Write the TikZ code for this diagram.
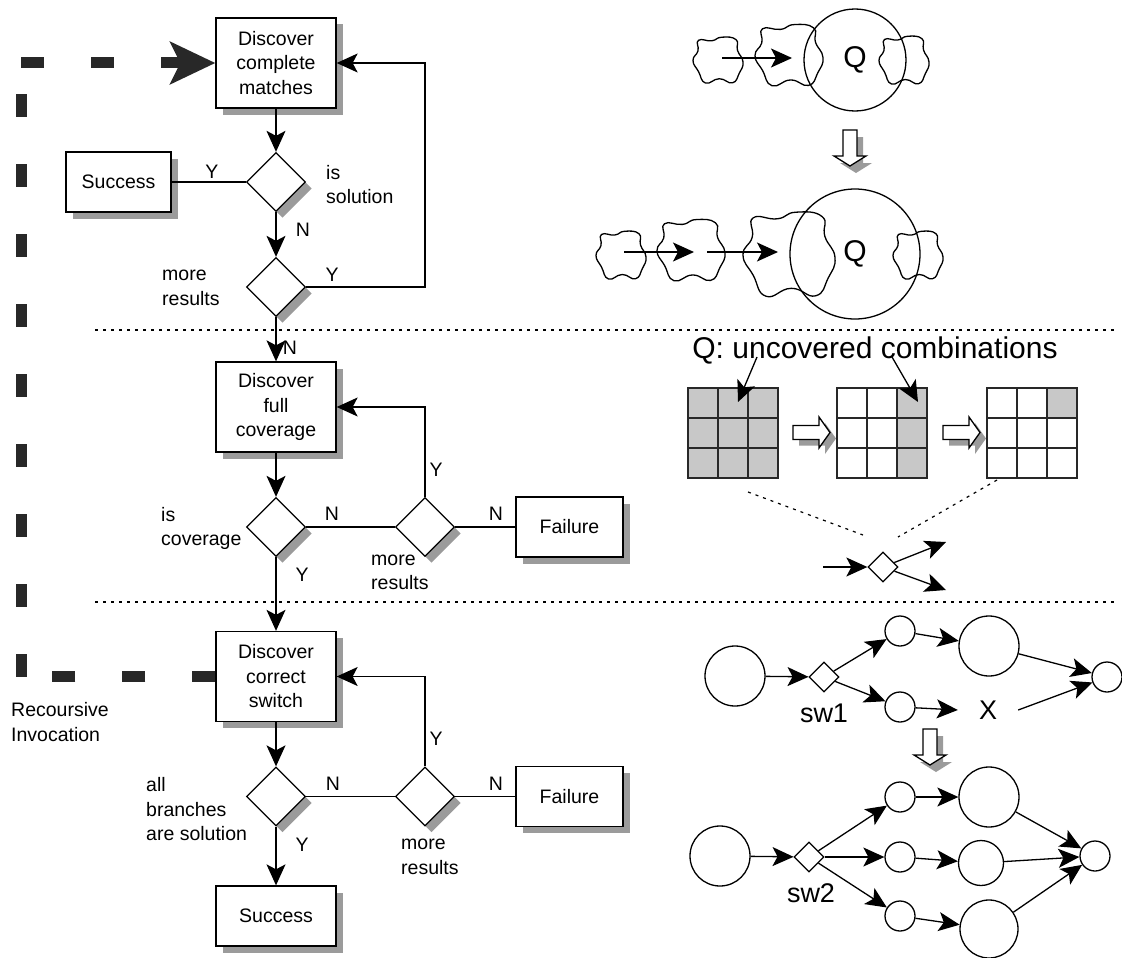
\documentclass[tikz,border=0pt]{standalone}
\usepackage{fontspec}
\setmainfont{Liberation Sans}
\usetikzlibrary{arrows.meta,shapes.geometric,shadows}
\definecolor{shadowgray}{RGB}{155,155,155}
\definecolor{cellgray}{RGB}{200,200,200}
\definecolor{inkgray}{RGB}{40,40,40}
\begin{document}
\begin{tikzpicture}[x=1pt,y=-1pt,
  >={Stealth[length=21pt,width=19pt,inset=5pt]},
  conn/.style={line width=1.3pt},
  lbl/.style={font=\fontsize{19.5}{24.5}\selectfont, inner sep=0pt},
  lbll/.style={lbl, anchor=west, align=left},
  shad/.style={drop shadow={shadow xshift=6.5pt, shadow yshift=-6.5pt, fill=shadowgray, opacity=1}},
  box/.style={draw, line width=1.3pt, fill=white, shad, align=center, inner sep=0pt, font=\fontsize{19.5}{24.5}\selectfont},
  dec/.style={draw, shape=diamond, line width=1.3pt, fill=white, shad, minimum width=59pt, minimum height=59pt, inner sep=0pt, aspect=1},
  dotline/.style={line width=1.2pt, dash pattern=on 3pt off 5pt},
  recur/.style={line width=11pt, color=inkgray, dash pattern=on 23pt off 47pt},
  qfont/.style={font=\fontsize{30}{36}\selectfont},
  gcirc/.style={draw, circle, line width=1.3pt, fill=white, inner sep=0pt},
  gsw/.style={draw, shape=diamond, line width=1.3pt, fill=white, minimum width=30pt, minimum height=30pt, inner sep=0pt, aspect=1},
  glabel/.style={font=\fontsize{27}{32}\selectfont, inner sep=0pt},
  gridl/.style={line width=1.5pt, color=inkgray},
  blob/.pic={\draw[line width=1.3pt] plot[smooth cycle, tension=0.85] coordinates {(-1.00,0.02) (-0.80,-0.38) (-0.78,-0.82) (-0.25,-0.80) (0.15,-0.95) (0.72,-0.85) (0.78,-0.40) (1.00,0.08) (0.85,0.55) (0.58,0.95) (0.05,0.78) (-0.50,0.96) (-0.78,0.48)};},
  darrow/.pic={
    \fill[shadowgray] (-1,7) -- (13,7) -- (13,33) -- (22,33) -- (6,43) -- (-10,33) -- (-1,33) -- cycle;
    \draw[line width=1.3pt, fill=white] (-7,0) -- (7,0) -- (7,26) -- (16,26) -- (0,36) -- (-16,26) -- (-7,26) -- cycle;},
  rarrow/.pic={
    \fill[shadowgray] (6,-1) -- (32,-1) -- (32,-9.5) -- (43,6) -- (32,21.5) -- (32,13) -- (6,13) -- cycle;
    \draw[line width=1.3pt, fill=white] (0,-7) -- (26,-7) -- (26,-15.5) -- (37,0) -- (26,15.5) -- (26,7) -- (0,7) -- cycle;},
  gridlines/.pic={
    \draw[gridl] (0,0) rectangle (90,90);
    \draw[gridl] (30,0) -- (30,90) (60,0) -- (60,90) (0,30) -- (90,30) (0,60) -- (90,60);}
]
\fill[white] (0,0) rectangle (1122,958);
\useasboundingbox (0,0) rectangle (1122,958);

% separators
\coordinate (sepa1) at (95,330);
\coordinate (sepa2) at (1115,330);
\coordinate (sepb1) at (95,602);
\coordinate (sepb2) at (1115,602);
\draw[dotline] (sepa1) -- (sepa2);
\draw[dotline] (sepb1) -- (sepb2);

% flowchart nodes
\node[box, minimum width=120pt, minimum height=90pt] (b1) at (276,63) {Discover\\complete\\matches};
\node[box, minimum width=105pt, minimum height=60pt] (s1) at (118.5,182) {Success};
\node[dec] (d1) at (276,182) {};
\node[dec] (d2) at (276,287) {};
\node[box, minimum width=120pt, minimum height=90pt] (b2) at (276,407) {Discover\\full\\coverage};
\node[dec] (d3) at (276,527) {};
\node[dec] (d4) at (425,527) {};
\node[box, minimum width=107pt, minimum height=60pt] (f1) at (569.5,527) {Failure};
\node[box, minimum width=120pt, minimum height=90pt] (b3) at (276,676.5) {Discover\\correct\\switch};
\node[dec] (d5) at (276,796.5) {};
\node[dec] (d6) at (425,796.5) {};
\node[box, minimum width=107pt, minimum height=60pt] (f2) at (569.5,796.5) {Failure};
\node[box, minimum width=120pt, minimum height=60pt] (s2) at (276,916) {Success};

% flowchart connectors
\draw[conn,->] (b1) -- (d1);
\draw[conn] (s1) -- (d1);
\draw[conn,->] (d1) -- (d2);
\coordinate (c1) at (425,287);
\draw[conn,->] (d2.east) -- (c1) |- (b1.east);
\draw[conn,->] (d2) -- (b2);
\draw[conn,->] (b2) -- (d3);
\draw[conn] (d3) -- (d4);
\draw[conn] (d4) -- (f1);
\draw[conn,->] (d4.north) |- (b2.east);
\draw[conn,->] (d3) -- (b3);
\draw[conn,->] (b3) -- (d5);
\draw[conn] (d5) -- (d6);
\draw[conn] (d6) -- (f2);
\draw[conn,->] (d6.north) |- (b3.east);
\draw[conn,->] (d5) -- (s2);

% recursive invocation
\coordinate (rb) at (21,676.5);
\coordinate (rt) at (21,63);
\draw[recur] (b3.west) -- (rb);
\draw[recur] (rb) -- (rt);
\draw[recur, -{Stealth[length=45pt,width=42pt,inset=10pt]}] (rt) -- (b1.west);

% labels
\node[lbl] (ly1) at (212,172) {Y};
\node[lbll] (lsol) at (326,184.5) {is\\solution};
\node[lbl] (ln1) at (303,230) {N};
\node[lbll] (lmr1) at (162,288) {more\\results};
\node[lbl] (ly2) at (332,275) {Y};
\node[lbl] (ln2) at (290,348) {N};
\node[lbll] (lcov) at (161,528.5) {is\\coverage};
\node[lbl] (ln3) at (332,514) {N};
\node[lbl] (ln4) at (496,514) {N};
\node[lbl] (ly3) at (436,470) {Y};
\node[lbll] (lmr2) at (371,572.5) {more\\results};
\node[lbl] (ly4) at (302,575) {Y};
\node[lbll] (lall) at (146,809.5) {all\\branches\\are solution};
\node[lbl] (ln5) at (333,784) {N};
\node[lbl] (ln6) at (496,784) {N};
\node[lbl] (ly5) at (436,739) {Y};
\node[lbl] (ly6) at (302,845) {Y};
\node[lbll] (lmr3) at (401,857) {more\\results};
\node[lbll] (lrec) at (11,722) {Recoursive\\Invocation};

% ---- top right: blobs and Q
\node[draw, circle, line width=1.3pt, minimum size=102pt, inner sep=0pt, qfont] (Q1) at (855,60) {Q};
\pic[xscale=25, yscale=24] at (718,60) {blob};
\pic[xscale=34, yscale=32] at (789,55) {blob};
\pic[xscale=25, yscale=25] at (904,60) {blob};
\coordinate (a1s) at (722,58);
\coordinate (a1e) at (792,58);
\draw[conn,->] (a1s) -- (a1e);

\pic at (850,130) {darrow};

\node[draw, circle, line width=1.3pt, minimum size=130pt, inner sep=0pt, qfont] (Q2) at (855,254) {Q};
\pic[xscale=25, yscale=25] at (621,255) {blob};
\pic[xscale=34, yscale=32] at (691,250) {blob};
\pic[xscale=46, yscale=44] at (789,254) {blob};
\pic[xscale=25, yscale=25] at (918,255) {blob};
\coordinate (a2s) at (624,252);
\coordinate (a2e) at (694,252);
\coordinate (a3s) at (707,252);
\coordinate (a3e) at (778,252);
\draw[conn,->] (a2s) -- (a2e);
\draw[conn,->] (a3s) -- (a3e);

% ---- middle right: grids
\node[qfont, inner sep=0pt] (qt) at (875,350) {Q: uncovered combinations};
\fill[cellgray] (688,388) rectangle (778,478);
\pic at (688,388) {gridlines};
\fill[cellgray] (897,388) rectangle (927,478);
\pic at (837,388) {gridlines};
\fill[cellgray] (1047,388) rectangle (1077,418);
\pic at (987,388) {gridlines};
\pic at (793,432.5) {rarrow};
\pic at (943,432.5) {rarrow};
\coordinate (qa1) at (757,357);
\coordinate (qb1) at (738,402);
\coordinate (qa2) at (892,357);
\coordinate (qb2) at (918,402);
\draw[conn,->] (qa1) -- (qb1);
\draw[conn,->] (qa2) -- (qb2);

\coordinate (dl1) at (748,492);
\coordinate (dl2) at (863,535);
\coordinate (dr1) at (997,480);
\coordinate (dr2) at (898,537);
\draw[dotline] (dl1) -- (dl2);
\draw[dotline] (dr1) -- (dr2);
\node[gsw] (sw0) at (883,567) {};
\coordinate (sw0in) at (823,567);
\coordinate (sw0a) at (946,542);
\coordinate (sw0b) at (946,590);
\draw[conn,->] (sw0in) -- (sw0);
\draw[conn,->] (sw0) -- (sw0a);
\draw[conn,->] (sw0) -- (sw0b);

% ---- bottom right: switch graphs
\node[gcirc, minimum size=60pt] (L1) at (735,676) {};
\node[gsw] (sw1) at (824,677) {};
\node[glabel] (sw1l) at (824,713) {sw1};
\node[gcirc, minimum size=30pt] (S1) at (900,631) {};
\node[gcirc, minimum size=30pt] (S2) at (900,707) {};
\node[gcirc, minimum size=60pt] (B1) at (989,646) {};
\node[gcirc, minimum size=30pt] (F1) at (1107,677) {};
\node[glabel, minimum width=60pt] (X) at (988,710) {X};
\draw[conn,->] (L1) -- (sw1);
\draw[conn,->] (sw1) -- (S1);
\draw[conn,->] (sw1) -- (S2);
\draw[conn,->] (S1) -- (B1);
\draw[conn,->] (B1) -- (F1);
\draw[conn,->] (S2) -- (X.west);
\draw[conn,->] (X.east) -- (F1);

\pic at (930,729) {darrow};

\node[gcirc, minimum size=60pt] (L2) at (720,856) {};
\node[gsw] (sw2) at (809,857) {};
\node[glabel] (sw2l) at (811,893) {sw2};
\node[gcirc, minimum size=30pt] (S3) at (900,797) {};
\node[gcirc, minimum size=30pt] (S4) at (900,857) {};
\node[gcirc, minimum size=30pt] (S5) at (900,916) {};
\node[gcirc, minimum size=60pt] (B3) at (989,797) {};
\node[gcirc, minimum size=45pt] (B4) at (981,863) {};
\node[gcirc, minimum size=58pt] (B5) at (989,929) {};
\node[gcirc, minimum size=30pt] (F2) at (1095,856) {};
\draw[conn,->] (L2) -- (sw2);
\draw[conn,->] (sw2) -- (S3);
\draw[conn,->] (sw2) -- (S4);
\draw[conn,->] (sw2) -- (S5);
\draw[conn,->] (S3) -- (B3);
\draw[conn,->] (S4) -- (B4);
\draw[conn,->] (S5) -- (B5);
\draw[conn,->] (B3) -- (F2);
\draw[conn,->] (B4) -- (F2);
\draw[conn,->] (B5) -- (F2);
\end{tikzpicture}
\end{document}
